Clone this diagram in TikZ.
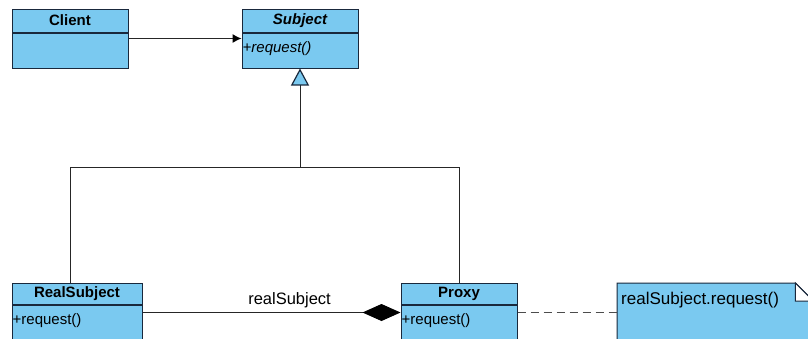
\documentclass[tikz,border=0pt]{standalone}
\usepackage{fontspec}
\setmainfont{Liberation Sans}
\usetikzlibrary{arrows.meta,positioning}

\definecolor{umlfill}{RGB}{122,201,240}
\definecolor{umlline}{RGB}{25,40,60}

\tikzset{
  classhead/.style={draw=umlline,fill=umlfill,line width=1pt,inner sep=0pt,
    minimum height=23pt,font=\fontsize{15}{17}\selectfont\bfseries},
  classbody/.style={draw=umlline,fill=umlfill,line width=1pt,inner sep=0pt},
  member/.style={inner sep=1pt,anchor=west,font=\fontsize{15}{17}\selectfont},
  link/.style={draw=black!85,line width=1pt}
}

\begin{document}
\begin{tikzpicture}[x=1pt,y=-1pt]
\useasboundingbox (0,0) rectangle (808,338);
\clip (0,0) rectangle (808,338);

% top row
\node[classhead,minimum width=116pt] (clienthead) at (70,20.5) {Client};
\node[classbody,minimum width=116pt,minimum height=35pt,below=0pt of clienthead] (clientbody) {};
\node[classhead,minimum width=116pt] (subjhead) at (300,20.5) {\itshape Subject};
\node[classbody,minimum width=116pt,minimum height=35pt,below=0pt of subjhead] (subjbody) {};
\node[member] (subjop) at ([yshift=-16pt]subjbody.north west) {\itshape +request()};

% bottom row
\node[classhead,minimum width=130pt,minimum height=21pt] (realhead) at (77,293.5) {RealSubject};
\node[classbody,minimum width=130pt,minimum height=46pt,below=0pt of realhead] (realbody) {};
\node[member] (realop) at ([yshift=-16pt]realbody.north west) {+request()};
\node[classhead,minimum width=116pt,minimum height=21pt] (proxyhead) at (459,293.5) {Proxy};
\node[classbody,minimum width=116pt,minimum height=46pt,below=0pt of proxyhead] (proxybody) {};
\node[member] (proxyop) at ([yshift=-16pt]proxybody.north west) {+request()};

% note with folded corner
\node[inner sep=0pt,minimum width=196pt,minimum height=67pt,anchor=north west] (note) at (617,283) {};
\filldraw[fill=umlfill,draw=umlline,line width=1pt]
  (note.north west) -- ([xshift=-18pt]note.north east) -- ([yshift=-18pt]note.north east)
  -- (note.south east) -- (note.south west) -- cycle;
\filldraw[fill=white,draw=umlline,line width=1pt]
  ([xshift=-18pt]note.north east) -- ([xshift=-18pt,yshift=-18pt]note.north east)
  -- ([yshift=-18pt]note.north east) -- cycle;
\node[anchor=west,inner sep=0pt,font=\fontsize{17}{19}\selectfont] (notetext)
  at ([xshift=4pt,yshift=-17pt]note.north west) {realSubject.request()};

% association and generalization
\draw[link,-{Latex[length=9pt,width=9pt,color=black]}] ([yshift=-6pt]clientbody.north east) -- ([yshift=-6pt]subjbody.north west);
\coordinate (bus) at (300,167);
\coordinate (realtop) at (70,283);
\draw[link] (realtop) |- (bus);
\draw[link] (proxyhead.north) |- (bus);
\draw[link,-{Triangle[length=17pt,width=18pt,fill=umlfill,color=umlline,line width=1.2pt]}] (bus) -- (subjbody.south);

% composition and note link
\draw[link,-{Diamond[length=38pt,width=17pt,color=black]}] ([yshift=-8pt]realbody.north east) -- ([yshift=-8pt]proxybody.north west)
  node[pos=0.57,above=1pt,font=\fontsize{16.5}{18}\selectfont] (rolelabel) {realSubject};
\draw[link,draw=black!70,dash pattern=on 8pt off 5pt] ([yshift=-8pt]proxybody.north east) -- ([yshift=-8pt]proxybody.north east -| note.west);
\end{tikzpicture}
\end{document}
